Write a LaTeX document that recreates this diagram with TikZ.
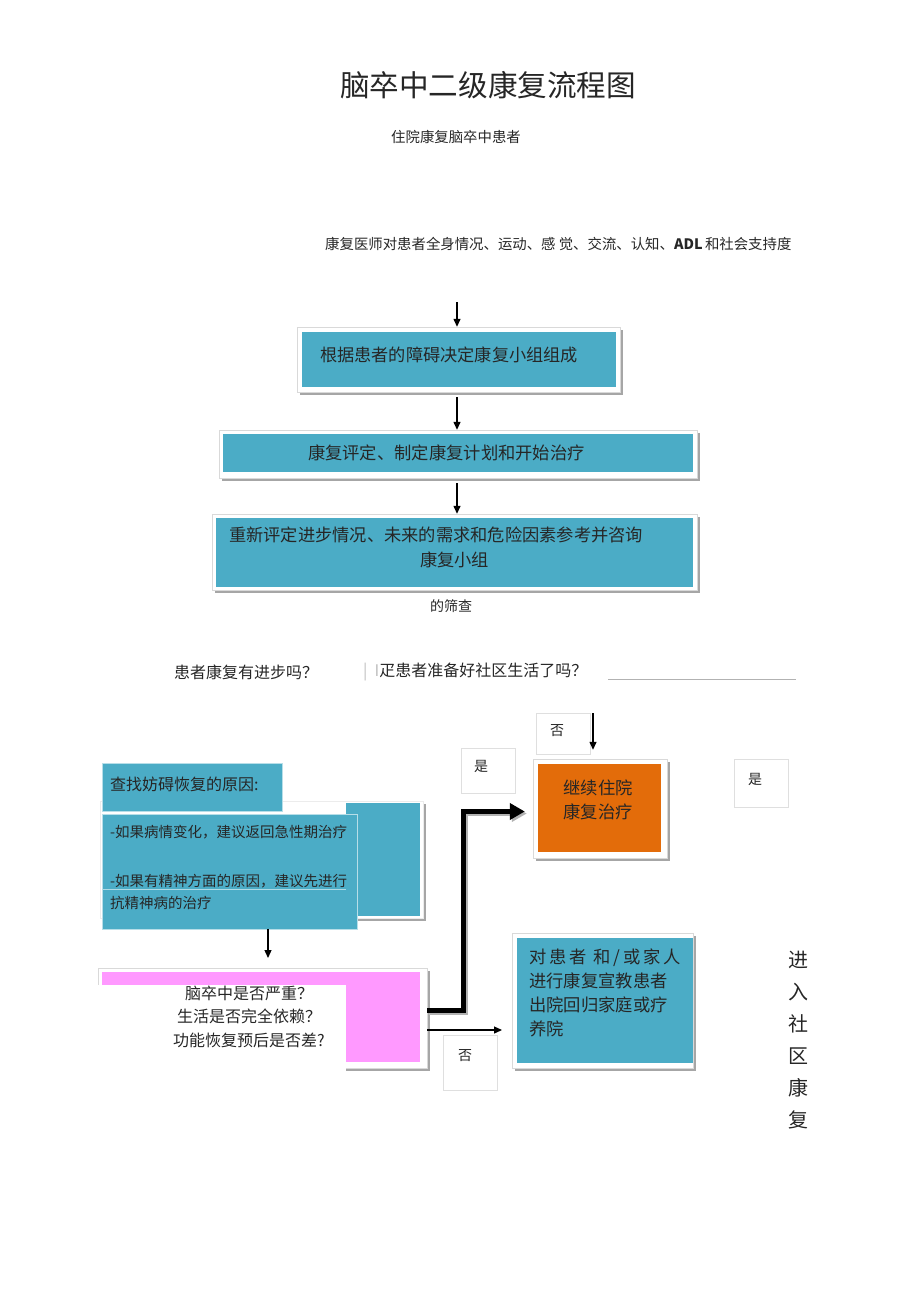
\documentclass[tikz,border=0pt]{standalone}
\usepackage{fontspec}
\setmainfont{Noto Sans CJK SC}
\usepackage{tikz}
\usetikzlibrary{arrows,arrows.meta,shadows,positioning}
\definecolor{teal1}{HTML}{4BACC6}
\definecolor{orange1}{HTML}{E36C0A}
\definecolor{pink1}{HTML}{FF99FF}
\definecolor{ink}{HTML}{262626}

\begin{document}
\begin{tikzpicture}[x=1pt, y=-1pt]
		\tikzstyle{Frame}	= [rectangle, draw=gray!30, fill=white, inner sep=0pt, drop shadow={shadow xshift=2.5pt, shadow yshift=-2.5pt, fill=gray!70, opacity=1}]
		\tikzstyle{Fill}	= [rectangle, inner sep=0pt, text=ink]
		\tikzstyle{Tag}		= [rectangle, draw=gray!25, fill=white, inner sep=0pt, minimum width=54pt]
		\tikzstyle{Word}	= [inner sep=0pt, text=ink]
		\tikzstyle{Arr}		= [-{Triangle[length=8pt, width=7pt]}, line width=1.3pt]
		\tikzstyle{Thick}	= [-{Triangle[length=15pt, width=16pt]}, line width=5pt]

		\useasboundingbox (0,0) rectangle (920,1303);

		\node (t1) at (488, 85) [Word, font=\fontsize{29.6}{32}\selectfont] {脑卒中二级康复流程图};
		\node (t2) at (456, 137) [Word, font=\fontsize{14.4}{16}\selectfont] {住院康复脑卒中患者};
		\node (t3) at (325, 244) [Word, anchor=west, font=\fontsize{14.4}{16}\selectfont] {康复医师对患者全身情况、运动、感\ 觉、交流、认知、\textbf{ADL}\,和社会支持度};

		\node (f1) at (458.5, 359.5) [Frame, minimum width=323pt, minimum height=65pt] {};
		\node (b1) at (459, 359.5) [Fill, fill=teal1, minimum width=314pt, minimum height=55pt, inner xsep=18pt, text width=278pt, text depth=10pt, align=left, font=\fontsize{17.2}{20}\selectfont] {根据患者的障碍决定康复小组组成};
		\node (f2) at (458, 454) [Frame, minimum width=478pt, minimum height=48pt] {};
		\node (b2) at (458, 453) [Fill, fill=teal1, minimum width=470pt, minimum height=38pt, inner xsep=85pt, text width=300pt, align=left, font=\fontsize{17.3}{20}\selectfont] {康复评定、制定康复计划和开始治疗};
		\node (f3) at (454.5, 552) [Frame, minimum width=485pt, minimum height=76pt] {};
		\node (b3) at (454.5, 552.5) [Fill, fill=teal1, minimum width=477pt, minimum height=69pt] {};
		\node (b3t) at (229, 547.5) [Word, anchor=west, align=left, font=\fontsize{17.25}{25}\selectfont] {重新评定进步情况、未来的需求和危险因素参考并咨询\\\hspace*{191pt}康复小组};
		\node (t4) at (451, 606) [Word, font=\fontsize{14}{16}\selectfont] {的筛查};

		\node (q0) at (174, 672) [Word, anchor=west, font=\fontsize{16}{18}\selectfont] {患者康复有进步吗？};
		\node (q2) at (363, 672) [Word, anchor=west, font=\fontsize{16}{18}\selectfont] {{\color{gray!50}|\ \ I}疋患者准备好社区生活了吗？};
		\draw [gray!60] (608, 679) -- (796, 679);

		\node (k0) at (261.5, 859.5) [Frame, draw=gray!15, minimum width=323pt, minimum height=117pt] {};
		\fill [teal1] (346, 803) rectangle (420, 916);
		\node (k1) at (192, 787) [Fill, fill=teal1, draw=teal1!40!white, minimum width=180pt, minimum height=48pt, inner xsep=8pt, text width=164pt, text depth=6pt, align=left, font=\fontsize{16}{18}\selectfont] {查找妨碍恢复的原因:};
		\node (k2) at (229.5, 871.5) [Fill, fill=teal1, draw=teal1!40!white, minimum width=255pt, minimum height=115pt] {};
		\node (k3) at (110, 867.5) [Word, anchor=west, align=left, font=\fontsize{14.5}{22}\selectfont] {-如果病情变化，建议返回急性期治疗\\[27pt]-如果有精神方面的原因，建议先进行\\抗精神病的治疗};
		\draw [teal1!45!white, line width=0.6pt] (102, 889) -- (346, 889);

		\node (q1) at (262.5, 1018) [Frame, minimum width=329pt, minimum height=100pt] {};
		\fill [pink1] (102, 972) rectangle (420, 1062);
		\fill [white] (94, 985) rectangle (346, 1074);
		\node (q3) at (249, 1016.5) [Word, align=center, font=\fontsize{16}{23.5}\selectfont] {脑卒中是否严重？\\生活是否完全依赖？\\功能恢复预后是否差?};

		\node (c0) at (600, 808.5) [Frame, minimum width=134pt, minimum height=99pt] {};
		\node (c1) at (599.5, 808) [Fill, fill=orange1, minimum width=123pt, minimum height=88pt] {};
		\node (c2) at (598, 800) [Word, align=center, font=\fontsize{17.3}{24}\selectfont] {继续住院\\康复治疗};

		\node (r0) at (602.5, 1000.5) [Frame, minimum width=181pt, minimum height=135pt] {};
		\node (r1) at (605, 1000.5) [Fill, fill=teal1, minimum width=176pt, minimum height=125pt] {};
		\node (r2) at (529, 993) [Word, anchor=west, align=left, font=\fontsize{17.3}{24}\selectfont] {对\,患\,者\ \,和\,/\,或\,家\,人\\进行康复宣教患者\\出院回归家庭或疗\\养院};

		\node (n1) at (563, 733.5) [Tag, minimum height=41pt] {};
		\node (n1t) at (557, 731) [Word, font=\fontsize{14}{16}\selectfont] {否};
		\node (y1) at (488, 770.5) [Tag, minimum height=45pt] {};
		\node (y1t) at (481, 766) [Word, font=\fontsize{14}{16}\selectfont] {是};
		\node (y2) at (761, 783) [Tag, minimum height=48pt] {};
		\node (y2t) at (755, 779) [Word, font=\fontsize{14}{16}\selectfont] {是};
		\node (n2) at (470, 1062.5) [Tag, minimum height=55pt] {};
		\node (n2t) at (465, 1056) [Word, font=\fontsize{14}{16}\selectfont] {否};

		\node (v1) at (798, 1040) [Word, align=center, font=\fontsize{20}{32}\selectfont] {进\\入\\社\\区\\康\\复};

		\coordinate (x1) at (457, 302);
		\coordinate (x2) at (268, 958);
		\coordinate (x3) at (593, 713);
		\coordinate (x4) at (502, 1030);

		\draw [Arr] (x1) to (x1 |- f1.north);
		\draw [Arr, shorten <=5pt] (f1.south -| x1) to (f2.north -| x1);
		\draw [Arr, shorten <=5pt] (f2.south -| x1) to (f3.north -| x1);
		\draw [Arr] (k2.south -| x2) to (x2);
		\draw [Arr, shorten >=9pt] (x3) to (x3 |- c0.north);
		\draw [Thick, gray!60, shorten >=8pt, transform canvas={xshift=2pt, yshift=-2pt}] ([yshift=8pt]q1.east) -- ++(36,0) |- ([yshift=-3pt]c0.west);
		\draw [Thick, shorten >=8pt] ([yshift=8pt]q1.east) -- ++(36,0) |- ([yshift=-3pt]c0.west);
		\draw [Arr] ([yshift=-12pt]q1.east) to (x4);
	\end{tikzpicture}
\end{document}
